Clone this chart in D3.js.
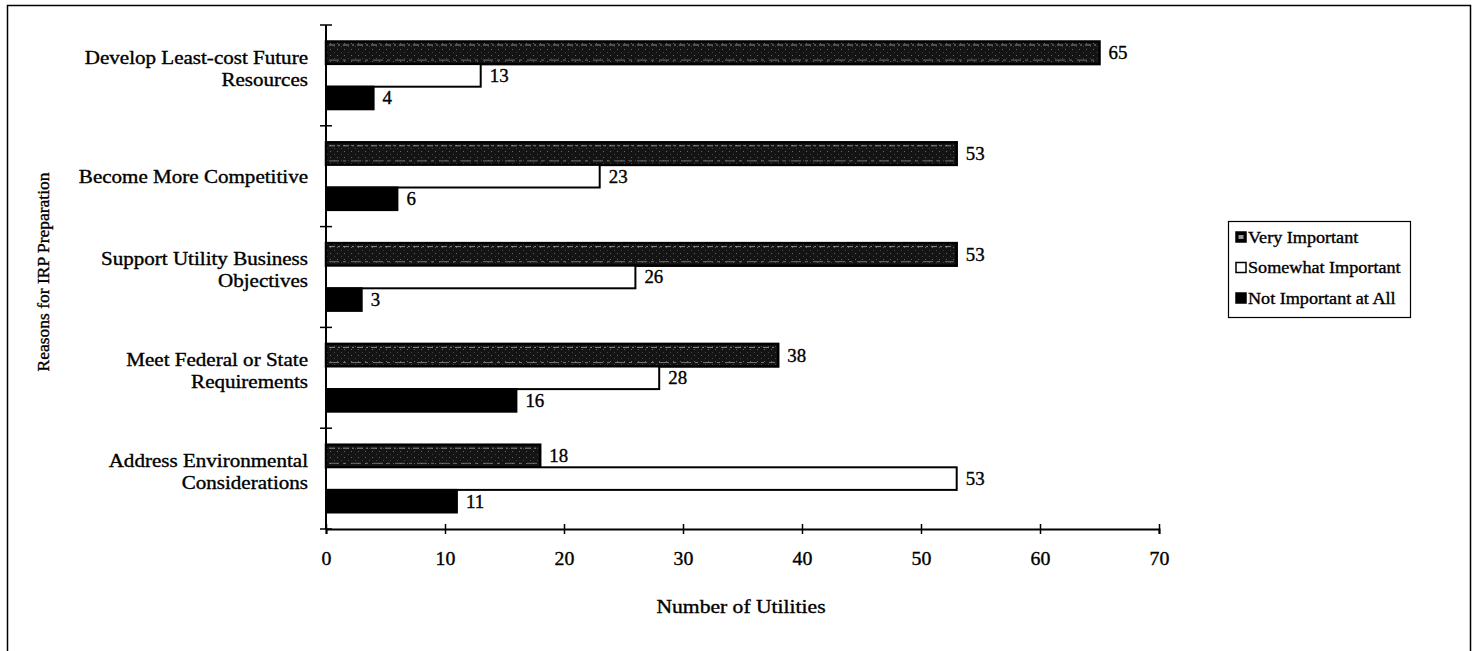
<!DOCTYPE html>
<html><head><meta charset="utf-8">
<script src="https://cdn.jsdelivr.net/npm/d3@7"></script>
<style>body{margin:0;background:#fff}svg{display:block}</style>
</head><body><svg id="c" width="1474" height="651"></svg>
<script>
const categories = [
  ["Develop Least-cost Future","Resources"],
  ["Become More Competitive"],
  ["Support Utility Business","Objectives"],
  ["Meet Federal or State","Requirements"],
  ["Address Environmental","Considerations"]
];
const seriesNames = ["Very Important","Somewhat Important","Not Important at All"];
const veryImportant = [65,53,53,38,18];
const somewhatImportant = [13,23,26,28,53];
const notImportant = [4,6,3,16,11];
const xTicks = [0,10,20,30,40,50,60,70];

(function(){
const FONT = "'Liberation Serif', 'Times New Roman', serif";
const SX = 1.17;
const svg = d3.select("#c");
const defs = svg.append("defs");
const pat = defs.append("pattern").attr("id","dots").attr("width",7).attr("height",6).attr("patternUnits","userSpaceOnUse");
pat.append("rect").attr("width",7).attr("height",6).attr("fill","#141414");
pat.append("rect").attr("x",1).attr("y",1).attr("width",1).attr("height",1).attr("fill","#666");
pat.append("rect").attr("x",5).attr("y",4).attr("width",1).attr("height",1).attr("fill","#444");

function txt(sel, size){
  return sel.attr("font-family",FONT).attr("font-size",size).attr("fill","#000")
    .attr("stroke","#000").attr("stroke-width",0.35);
}
function htext(parent, x, y, size, anchor, str, sx){
  const gg = parent.append("g").attr("transform",`translate(${x},${y}) scale(${sx||SX},1)`);
  return txt(gg.append("text"),size).attr("text-anchor",anchor).attr("dy","0.35em").text(str);
}

// outer frame
svg.append("rect").attr("x",7.5).attr("y",5.5).attr("width",1463).attr("height",700)
  .attr("fill","none").attr("stroke","#000").attr("stroke-width",1.5);

const pL = 326, pR = 1159, pT = 25, pB = 529;
const x = d3.scaleLinear().domain([0,70]).range([pL,pR]);
const y0 = d3.scaleBand().domain(d3.range(categories.length)).range([pT,pB]).paddingInner(0).paddingOuter(0);
const y1 = d3.scaleBand().domain(d3.range(3)).range([16.5, y0.bandwidth()-16.5]);

const data = categories.map((c,i)=>({i, vals:[veryImportant[i],somewhatImportant[i],notImportant[i]]}));
const fills = ["url(#dots)","#fff","#000"];

const g = svg.append("g");
data.forEach(d=>{
  d.vals.forEach((v,k)=>{
    const yy = y0(d.i)+y1(k);
    g.append("rect").attr("x",x(0)).attr("y",yy).attr("width",x(v)-x(0)).attr("height",y1.bandwidth())
      .attr("fill",fills[k]).attr("stroke","#000").attr("stroke-width",k===0?2.5:2);
    if(k===0){
      g.append("line").attr("x1",x(0)+3).attr("x2",x(v)-3).attr("y1",yy+3.5).attr("y2",yy+3.5)
        .attr("stroke","#aaa").attr("stroke-width",0.8).attr("stroke-dasharray","6,3,2,3");
      g.append("line").attr("x1",x(0)+3).attr("x2",x(v)-3).attr("y1",yy+y1.bandwidth()-4).attr("y2",yy+y1.bandwidth()-4)
        .attr("stroke","#888").attr("stroke-width",0.8).attr("stroke-dasharray","10,4,3,5");
    }
    htext(g, x(v)+9, yy+y1.bandwidth()/2, 18, "start", v, 1.05);
  });
});

// x axis
const xa = svg.append("g").attr("transform",`translate(0,${pB})`)
  .call(d3.axisBottom(x).tickValues(xTicks).tickSize(5).tickPadding(18).tickFormat(d3.format("d")));
xa.select(".domain").attr("stroke","#000").attr("stroke-width",2);
xa.selectAll(".tick line").attr("y1",-5).attr("y2",5).attr("stroke-width",1.5);
txt(xa.selectAll("text"),18).attr("transform","scale(1.1,1)");

// y axis
const yBounds = d3.range(categories.length+1).map(i=> i<categories.length ? y0(i) : pB);
svg.append("line").attr("x1",pL).attr("x2",pL).attr("y1",pT).attr("y2",pB).attr("stroke","#000").attr("stroke-width",2);
svg.selectAll(".yt").data(yBounds).enter().append("line")
  .attr("x1",pL-6).attr("x2",pL+6).attr("y1",d=>d).attr("y2",d=>d).attr("stroke","#000").attr("stroke-width",1.5);

categories.forEach((c,i)=>{
  const cy = y0(i)+y0.bandwidth()/2;
  if(c.length===1){
    htext(svg, 308, cy, 18, "end", c[0]);
  } else {
    htext(svg, 308, cy-18, 18, "end", c[0]);
    htext(svg, 308, cy+4, 18, "end", c[1]);
  }
});

// titles
txt(svg.append("text"),17.5).attr("transform","translate(43,272) rotate(-90)").attr("text-anchor","middle")
  .attr("dy","0.35em").text("Reasons for IRP Preparation");
htext(svg, 741, 607, 18, "middle", "Number of Utilities", 1.2);

// legend
const lg = svg.append("g");
lg.append("rect").attr("x",1228.5).attr("y",221.5).attr("width",182).attr("height",96)
  .attr("fill","#fff").attr("stroke","#000").attr("stroke-width",1.2);
seriesNames.forEach((n,k)=>{
  const yy = 237 + k*30.5;
  lg.append("rect").attr("x",1236).attr("y",yy-5).attr("width",10).attr("height",10)
    .attr("fill",k===1?"#fff":"#000").attr("stroke","#000").attr("stroke-width",1.5);
  if(k===0) lg.append("rect").attr("x",1238.5).attr("y",yy-2).attr("width",5).attr("height",4).attr("fill","#999");
  htext(lg, 1248, yy, 16.5, "start", n, 1.1);
});
})();
</script></body></html>
